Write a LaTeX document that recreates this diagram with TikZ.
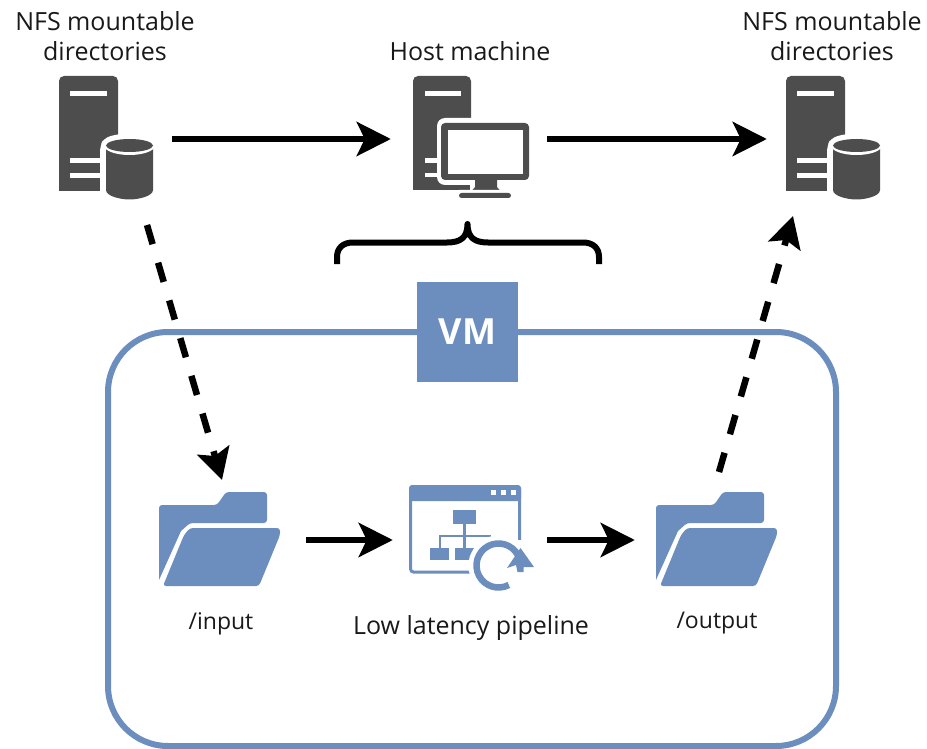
\documentclass[tikz,border=0pt]{standalone}
\usepackage{fontspec}
\setmainfont{Open Sans}
\usetikzlibrary{arrows.meta}
\definecolor{iconG}{HTML}{4D4D4D}
\definecolor{vmB}{HTML}{6C8EBF}
\tikzset{
  lbl/.style={font=\fontsize{25}{30}\selectfont,align=center,inner sep=0pt,text=black!90},
  lblsmall/.style={lbl,font=\fontsize{23}{28}\selectfont},
  flow/.style={line width=6pt,-{Stealth[length=34pt,width=34pt,inset=8pt]}},
  dflow/.style={line width=6.5pt,dash pattern=on 20pt off 19.3pt,-{Stealth[length=31pt,width=33pt,inset=6pt]}},
  anchorbox/.style={inner sep=0pt,minimum width=#1,minimum height=60pt},
  ig/.style={fill=iconG,draw=none},
  ib/.style={fill=vmB,draw=none},
  wh/.style={fill=white,draw=none},
}
\newcommand{\drawserver}[1]{%
\begin{scope}[xshift=#1pt]
 \fill[ig,rounded corners=5pt] (59,191)--(59,76)--(118,76)--(118,191)--cycle;
 \fill[ig] (59,185) rectangle (118,191);
 \fill[wh] (70,91.5) rectangle (107,96.5);
 \fill[wh] (70,158) rectangle (104,163.5);
 \fill[wh] (70,173.5) rectangle (104,178.5);
 \fill[wh,rounded corners=6pt] (100,200) -- (100,146) -- (104,138) -- (118,134) -- (135,134) -- (158,150) -- (158,204) -- cycle;
 \fill[ig] (106,146) -- (106,190) .. controls (106,196) and (120,199.5) .. (129.5,199.5)
   .. controls (139,199.5) and (153,196) .. (153,190) -- (153,146) -- cycle;
 \fill[wh] (129.5,145.5) ellipse (25.5 and 9.5);
 \fill[ig] (129.5,145.5) ellipse (23.5 and 6.5);
\end{scope}}
\newcommand{\drawfolder}[1]{%
\begin{scope}[xshift=#1pt]
 \fill[ib,rounded corners=3pt] (159,580) -- (159,505) -- (217,505) -- (226,492) -- (267,492) -- (267,523) -- (190,523) [sharp corners] -- (181,531) -- cycle;
 \fill[ib,rounded corners=3pt] (163,586) -- (184,535) -- (190,528) -- (280,528) -- (280,535) -- (259,586) -- cycle;
\end{scope}}
\begin{document}
\begin{tikzpicture}[x=1pt,y=-1pt]
\useasboundingbox (0,0) rectangle (927,749);
% VM frame
\draw[vmB,line width=6pt,rounded corners=60pt] (108,332) rectangle (836,746);
\node[fill=vmB,minimum width=101pt,minimum height=100pt,inner sep=0pt,text=white,font=\fontsize{36}{40}\selectfont\bfseries] (vm) at (467.5,332) {VM};
% icons
\drawserver{0}
\drawserver{727}
% host
\fill[ig,rounded corners=5pt] (413,190) -- (413,76) -- (471,76) -- (471,190) -- cycle;
\fill[ig] (413,184) rectangle (471,190);
\fill[wh] (425,91) rectangle (461,96);
\fill[wh] (425,158) rectangle (440,163);
\fill[wh] (425,173) rectangle (440,177);
\fill[wh,rounded corners=8pt] (437,118) rectangle (533,185);
\fill[wh] (470,180) rectangle (500,192);
\fill[ig,rounded corners=4pt] (441,123) rectangle (529,180);
\fill[wh] (447.5,130) rectangle (523,174.5);
\fill[ig] (475,178) -- (497,178) -- (497,187) -- (502,193) -- (470,193) -- (475,187) -- cycle;
\fill[wh,rounded corners=3pt] (456,190) rectangle (514,201);
\fill[ig,rounded corners=2.5pt] (459,193) rectangle (511,198);
% folders
\drawfolder{0}
\drawfolder{497}
% pipeline icon
\draw[vmB,line width=3pt,rounded corners=3pt] (410.5,486.5) rectangle (519.5,572);
\fill[ib,rounded corners=3pt] (409,485) rectangle (521,501);
\fill[wh] (491,490) rectangle (495.5,494.5);
\fill[wh] (501,490) rectangle (505.5,494.5);
\fill[wh] (511,490) rectangle (515.5,494.5);
\fill[ib] (453,510) rectangle (476,524);
\fill[ib] (430,548) rectangle (449,560);
\fill[ib] (455,548) rectangle (474,560);
\draw[vmB,line width=2.5pt] (464.5,524) -- (464.5,548);
\draw[vmB,line width=2.5pt] (440,548) -- (440,536) -- (491,536);
\fill[wh] (498.5,565.5) circle (30);
\fill[wh] (505,540) -- (522,540) -- (540,570) -- (505,574) -- cycle;
\draw[vmB,line width=6.5pt] (498.5,565.5) ++(62:22) arc[start angle=62,end angle=360,radius=22];
\fill[ib] (520.5,548) -- (534,567) -- (523.5,567) -- (523.5,572) -- (517.5,572) -- (516,565) -- (507,568) -- cycle;
% brace
\draw[black,line width=6pt,line join=round] (337,264) -- (337,257) .. controls (337,248) and (343,242.5) .. (353,242.5)
  -- (447,242.5) .. controls (460,242.5) and (467.5,238) .. (467.5,224)
  .. controls (467.5,238) and (475,242.5) .. (488,242.5)
  -- (583,242.5) .. controls (593,242.5) and (599,248) .. (599,257) -- (599,264);
% anchors
\node[anchorbox=113pt] (srcsrv) at (115.5,139) {};
\node[anchorbox=156pt] (host) at (469,139) {};
\node[anchorbox=113pt] (dstsrv) at (823.5,139) {};
\node[anchorbox=112pt] (infolder) at (250,540) {};
\node[anchorbox=154pt] (pipeline) at (470,540) {};
\node[anchorbox=110pt] (outfolder) at (690,540) {};
\coordinate (srcdown) at (147,225);
\coordinate (indown) at (222,480);
\coordinate (outup) at (719,472);
\coordinate (dstup) at (793,216);
% connectors
\draw[flow] (srcsrv.east) -- (host.west);
\draw[flow] (host.east) -- (dstsrv.west);
\draw[flow] (infolder.east) -- (pipeline.west);
\draw[flow] (pipeline.east) -- (outfolder.west);
\draw[dflow] (srcdown) -- (indown);
\draw[dflow] (outup) -- (dstup);
% labels
\node[lbl] (lsrc) at (105,36) {NFS mountable\\directories};
\node[lbl] (lhost) at (470,51) {Host machine};
\node[lbl] (ldst) at (832,36) {NFS mountable\\directories};
\node[lblsmall] (lin) at (221,623.5) {/input};
\node[lbl] (lpipe) at (471,628) {Low latency pipeline};
\node[lblsmall] (lout) at (717,623.5) {/output};
\end{tikzpicture}
\end{document}
